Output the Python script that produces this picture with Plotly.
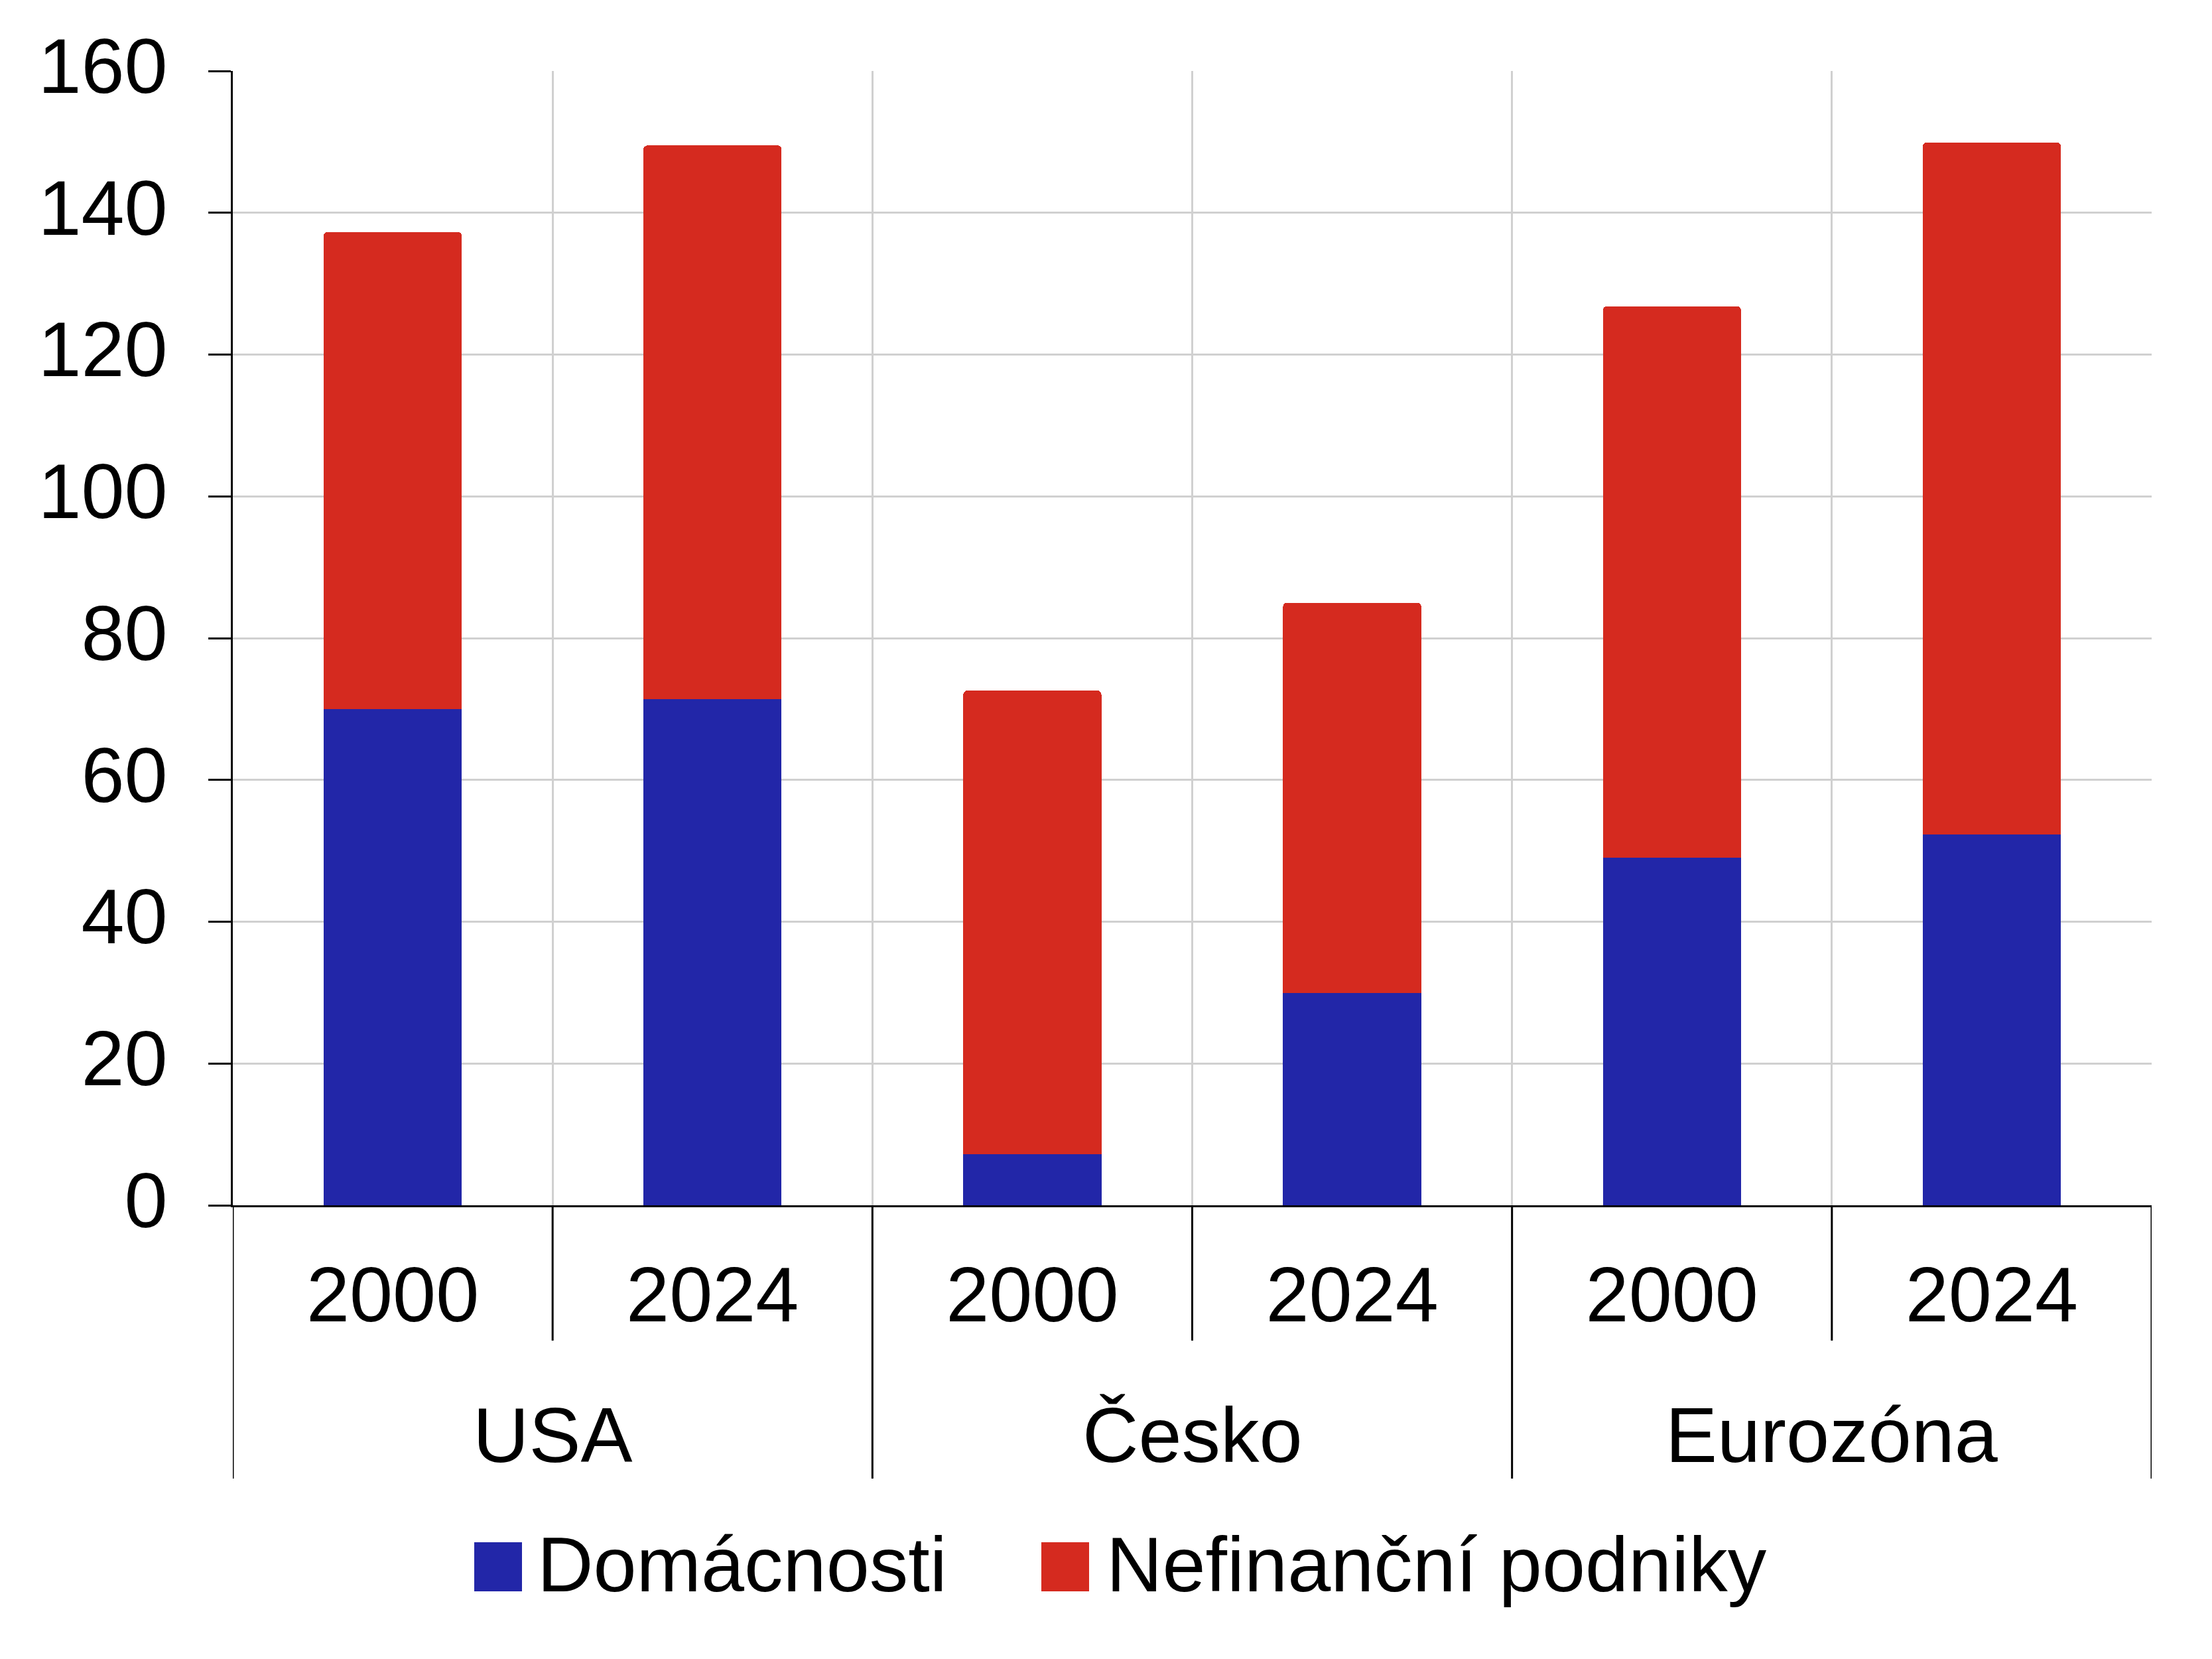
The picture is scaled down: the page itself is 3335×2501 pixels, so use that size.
import plotly.graph_objects as go

countries = ["USA", "Česko", "Eurozóna"]
years = ["2000", "2024"]
domacnosti = [70.0, 71.4, 7.2, 29.9, 49.0, 52.3]
nefinancni = [67.3, 78.1, 65.4, 55.1, 77.8, 97.6]
series_names = ["Domácnosti", "Nefinanční podniky"]
colors = ["#2226a8", "#d52a1f"]
y_ticks = [0, 20, 40, 60, 80, 100, 120, 140, 160]

cats = [f"{c} {y}" for c in countries for y in years]
year_labels = [y for c in countries for y in years]

FONT = "Liberation Sans"
FS = 117

fig = go.Figure()
for name, vals, col in zip(series_names, [domacnosti, nefinancni], colors):
    fig.add_trace(go.Bar(x=cats, y=vals, name=name, marker_color=col,
                         marker_line_width=0, showlegend=False))

OFF = 8  # browser body margin
W, H = 3335 - 2 * OFF, 2501 - 2 * OFF
L = 351 - OFF
T = 107 - OFF
R = W - (3244 - OFF)
B = H - (1817 - OFF)
pw = W - L - R
ph = H - T - B

def px_x(p):
    return (p - OFF - L) / pw

def px_y(p):
    return (H - B - (p - OFF)) / ph

shapes = []
n = len(cats)
# separators below axis
for i in range(n + 1):
    xb = i - 0.5
    long = (i % len(years) == 0)
    y1 = px_y(2229) if long else px_y(2021)
    shapes.append(dict(type="line", xref="x", yref="paper", x0=xb, x1=xb,
                       y0=0, y1=y1, line=dict(color="black", width=3)))

annotations = []
for k, c in enumerate(countries):
    annotations.append(dict(text=c, xref="x", yref="paper",
                            x=k * len(years) + (len(years) - 1) / 2, y=px_y(2163),
                            showarrow=False, xanchor="center", yanchor="middle",
                            font=dict(family=FONT, size=FS, color="black")))

# custom legend
leg = [(715, 787, 808), (1570, 1642, 1666)]
for (x0, x1, tx), name, col in zip(leg, series_names, colors):
    shapes.append(dict(type="rect", xref="paper", yref="paper",
                       x0=px_x(x0), x1=px_x(x1), y0=px_y(2399), y1=px_y(2325),
                       fillcolor=col, line=dict(width=0)))
    annotations.append(dict(text=name, xref="paper", yref="paper",
                            x=px_x(tx), y=px_y(2358), showarrow=False,
                            xanchor="left", yanchor="middle",
                            font=dict(family=FONT, size=FS, color="black")))

fig.update_layout(
    width=W, height=H,
    margin=dict(l=L, r=R, t=T, b=B),
    barmode="stack", bargap=0.568, barcornerradius=6,
    plot_bgcolor="white", paper_bgcolor="white",
    font=dict(family=FONT, size=FS, color="black"),
    shapes=shapes, annotations=annotations,
    showlegend=False,
)
fig.update_xaxes(type="category", tickson="boundaries", tickmode="array",
                 tickvals=cats, ticktext=year_labels,
                 range=[-0.5, n - 0.5], showgrid=True, gridcolor="#d0d0d0",
                 gridwidth=3, showline=True, linecolor="black", linewidth=3,
                 ticks="", ticklabelstandoff=32,
                 tickfont=dict(family=FONT, size=FS, color="black"))
fig.update_yaxes(range=[0, 160], tickvals=y_ticks, showgrid=True,
                 gridcolor="#d0d0d0", gridwidth=3, zeroline=False,
                 showline=True, linecolor="black", linewidth=3,
                 ticks="outside", ticklen=34, tickwidth=3, tickcolor="black",
                 ticklabelstandoff=38, ticklabelshift=-8,
                 tickfont=dict(family=FONT, size=FS, color="black"))

fig.write_html("out.html")
